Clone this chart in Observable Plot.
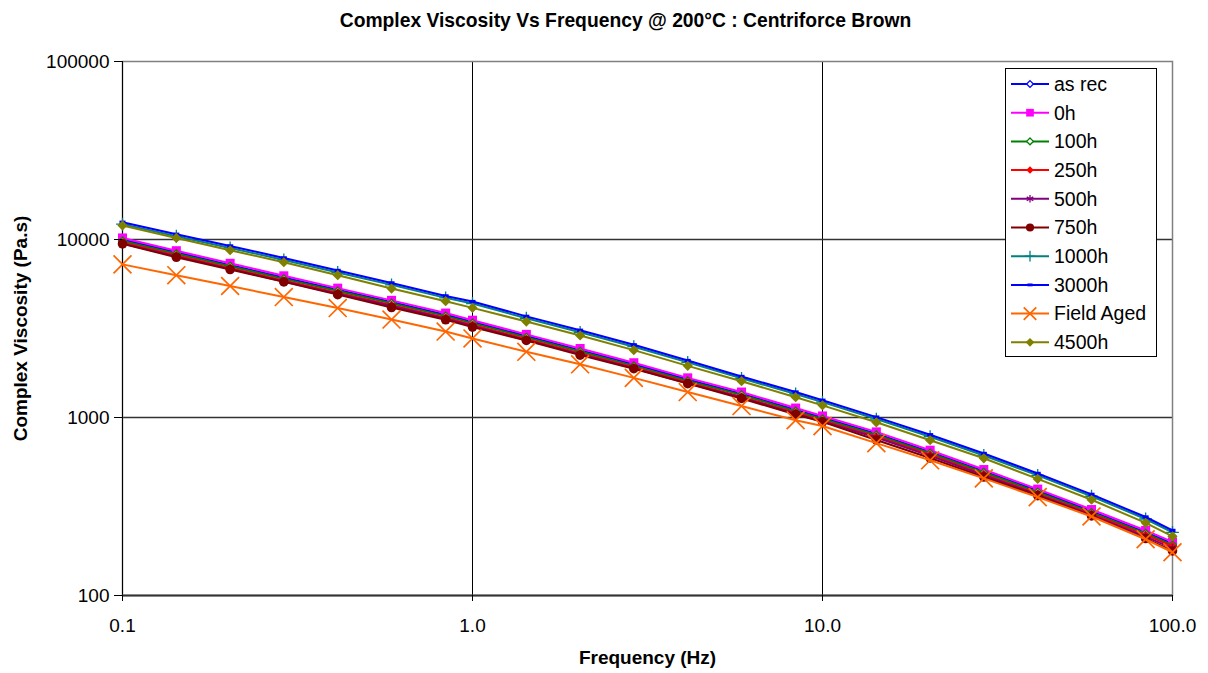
<!DOCTYPE html>
<html>
<head>
<meta charset="utf-8">
<script src="https://cdn.jsdelivr.net/npm/d3@7"></script>
<script src="https://cdn.jsdelivr.net/npm/@observablehq/plot@0.6"></script>
<style>
  html, body { margin: 0; padding: 0; background: white; overflow: hidden; }
  svg { display: block; }
</style>
</head>
<body>
<div id="chart"></div>
<script>
// ---- data ----
const frequencies = [0.1, 0.1425, 0.203, 0.289, 0.412, 0.587, 0.838, 1, 1.425, 2.03, 2.89, 4.12, 5.87, 8.38, 10, 14.25, 20.3, 28.9, 41.2, 58.7, 83.8, 100];
const seriesNames = ["as rec", "0h", "100h", "250h", "500h", "750h", "1000h", "3000h", "Field Aged", "4500h"];
const asRec     = [10000, 8480, 7200, 6120, 5220, 4460, 3780, 3450, 2870, 2390, 1990, 1635, 1360, 1105, 1000, 812, 640, 500, 388, 298, 227, 196];
const h0        = [10200, 8650, 7350, 6250, 5330, 4550, 3860, 3520, 2930, 2440, 2030, 1670, 1390, 1130, 1020, 830, 655, 510, 396, 304, 232, 200];
const h100      = [9800, 8320, 7070, 6010, 5130, 4380, 3710, 3390, 2820, 2350, 1950, 1605, 1340, 1085, 980, 798, 630, 491, 381, 292, 223, 192];
const h250      = [9620, 8160, 6930, 5890, 5030, 4290, 3640, 3320, 2760, 2300, 1915, 1575, 1310, 1065, 962, 783, 618, 481, 373, 287, 219, 189];
const h500      = [9500, 8040, 6840, 5810, 4960, 4230, 3590, 3270, 2720, 2270, 1890, 1555, 1295, 1050, 950, 772, 609, 474, 368, 283, 214, 184];
const h750      = [9450, 7950, 6780, 5780, 4900, 4150, 3540, 3220, 2710, 2240, 1880, 1550, 1280, 1040, 945, 748, 592, 463, 364, 280, 209, 178];
const h1000     = [12200, 10430, 8970, 7680, 6530, 5560, 4700, 4370, 3610, 3010, 2500, 2040, 1660, 1355, 1220, 980, 780, 612, 473, 361, 269, 226];
const h3000     = [12500, 10700, 9200, 7880, 6700, 5700, 4820, 4480, 3700, 3090, 2560, 2090, 1700, 1390, 1250, 1005, 800, 628, 485, 370, 276, 232];
const fieldAged = [7250, 6300, 5480, 4750, 4120, 3550, 3040, 2780, 2340, 1990, 1670, 1390, 1160, 965, 895, 718, 575, 455, 357, 278, 207, 175];
const h4500     = [12000, 10200, 8700, 7450, 6300, 5300, 4500, 4130, 3460, 2890, 2390, 1950, 1600, 1300, 1170, 940, 745, 590, 452, 345, 256, 215];
const xTicks = [0.1, 1, 10, 100];
const yTicks = [100, 1000, 10000, 100000];
const titleText = "Complex Viscosity Vs Frequency @ 200°C : Centriforce Brown";
const xTitle = "Frequency (Hz)";
const yTitle = "Complex Viscosity (Pa.s)";

// ---- styles (separate from data) ----
const dash3000 = { draw(ctx, size) { const w = Math.sqrt(size) * 0.95, h = w * 0.55; ctx.rect(-w / 2, -h / 2, w, h); } };
const styles = [
  {color: "#0000FF", symbol: "diamond2", r: 3.6, fill: "white", sw: 1.3},
  {color: "#FF00FF", symbol: "square",   r: 5.1, fill: "#FF00FF", sw: 0},
  {color: "#008000", symbol: "diamond2", r: 3.6, fill: "white", sw: 1.3},
  {color: "#FF0000", symbol: "diamond2", r: 4.0, fill: "#FF0000", sw: 0},
  {color: "#800080", symbol: "asterisk", r: 4.2, fill: "none", sw: 1.3},
  {color: "#800000", symbol: "circle",   r: 4.8, fill: "#800000", sw: 0},
  {color: "#008080", symbol: "plus",     r: 4.2, fill: "none", sw: 1.3},
  {color: "#0000FF", symbol: dash3000,   r: 3.6, fill: "#0000FF", sw: 0},
  {color: "#FF6600", symbol: "times",    r: 8.2, fill: "none", sw: 1.7},
  {color: "#808000", symbol: "diamond2", r: 4.6, fill: "#808000", sw: 0}
];
const seriesValues = [asRec, h0, h100, h250, h500, h750, h1000, h3000, fieldAged, h4500];

const seriesMarks = [];
seriesNames.forEach((name, si) => {
  const st = styles[si];
  const rows = frequencies.map((f, i) => ({freq: f, visc: seriesValues[si][i], series: name}));
  seriesMarks.push(Plot.line(rows, {x: "freq", y: "visc", stroke: st.color, strokeWidth: 2}));
  seriesMarks.push(Plot.dot(rows, {
    x: "freq", y: "visc", symbol: () => st.symbol, r: st.r,
    fill: st.fill, stroke: st.sw ? st.color : "none", strokeWidth: st.sw
  }));
});

const chart = Plot.plot({
  width: 1208,
  height: 673,
  marginLeft: 122,
  marginRight: 36,
  marginTop: 61,
  marginBottom: 78,
  style: {fontFamily: "'Liberation Sans', Arial, sans-serif", fontSize: "19px", background: "white", color: "black"},
  x: {type: "log", domain: [0.1, 100]},
  y: {type: "log", domain: [100, 100000]},
  symbol: {type: "identity"},
  marks: [
    Plot.ruleX([1, 10], {stroke: "#000", strokeWidth: 1}),
    Plot.ruleY([1000, 10000], {stroke: "#333", strokeWidth: 1.3}),
    Plot.frame({stroke: "#808080", strokeWidth: 1.5}),
    Plot.ruleX([0.1], {stroke: "#000", strokeWidth: 1}),
    Plot.ruleY([100], {stroke: "#333", strokeWidth: 2}),
    ...seriesMarks,
    Plot.axisX({ticks: xTicks, tickFormat: d3.format(".1f"), tickSize: 6, tickPadding: 17, label: null, fontSize: 19}),
    Plot.axisY({ticks: yTicks, tickFormat: d3.format("d"), tickSize: 8, tickPadding: 5, label: null, fontSize: 19}),
    Plot.text([titleText], {text: d => d, frameAnchor: "top", dy: -48, dx: -22, fontWeight: "bold", fontSize: 19.3, textAnchor: "middle"}),
    Plot.text([xTitle], {text: d => d, frameAnchor: "bottom", dy: 68, fontWeight: "bold", fontSize: 19, textAnchor: "middle"}),
    Plot.text([yTitle], {text: d => d, frameAnchor: "left", dx: -102, rotate: -90, fontWeight: "bold", fontSize: 19, textAnchor: "middle"})
  ]
});
document.getElementById("chart").appendChild(chart);

// ---- legend ----
const symMap = {diamond2: d3.symbolDiamond2, square: d3.symbolSquare, circle: d3.symbolCircle, plus: d3.symbolPlus, times: d3.symbolTimes, asterisk: d3.symbolAsterisk};
const svg = d3.select(chart);
const lg = svg.append("g").attr("font-family", "'Liberation Sans', Arial, sans-serif").attr("font-size", 19.5).attr("text-anchor", "start");
lg.append("rect").attr("x", 1005.5).attr("y", 68.5).attr("width", 151).attr("height", 288)
  .attr("fill", "white").attr("stroke", "#000").attr("stroke-width", 1);
seriesNames.forEach((name, i) => {
  const st = styles[i];
  const cy = 84 + i * 28.7;
  lg.append("line").attr("x1", 1011).attr("x2", 1049).attr("y1", cy).attr("y2", cy)
    .attr("stroke", st.color).attr("stroke-width", 2);
  const type = typeof st.symbol === "string" ? symMap[st.symbol] : st.symbol;
  const rr = st.symbol === "times" ? st.r * 0.7 : st.r * 0.85;
  lg.append("path").attr("d", d3.symbol(type, Math.PI * rr * rr)())
    .attr("transform", `translate(1030,${cy})`)
    .attr("fill", st.fill).attr("stroke", st.sw ? st.color : "none").attr("stroke-width", st.sw);
  lg.append("text").attr("x", 1054).attr("y", cy).attr("dy", "0.35em").attr("text-anchor", "start").attr("fill", "#000").text(name);
});
</script>
</body>
</html>
